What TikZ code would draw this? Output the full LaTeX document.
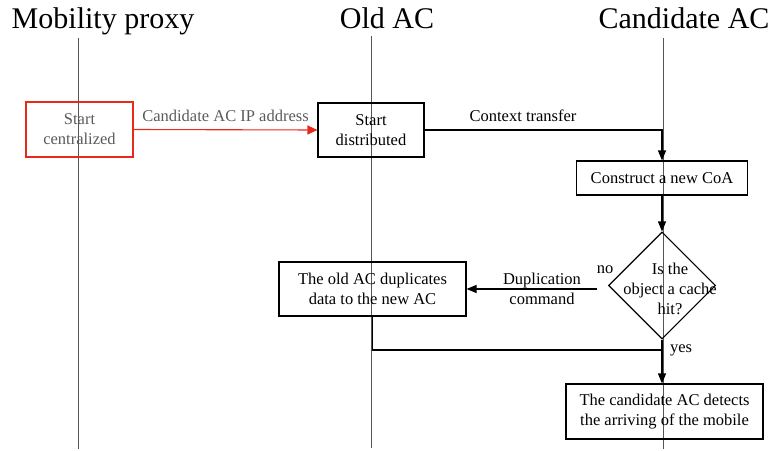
\documentclass[tikz,border=0pt]{standalone}
\usepackage{fontspec}
\setmainfont{Liberation Serif}
\usetikzlibrary{shapes.geometric,arrows.meta}
\definecolor{myred}{HTML}{E8291C}
\definecolor{txtgray}{HTML}{5A5A5A}
\definecolor{lifegray}{HTML}{555555}
\begin{document}
\begin{tikzpicture}[x=1pt,y=-1pt,
 box/.style={draw,line width=1.1pt,inner sep=0pt,align=center,font=\fontsize{16.5}{20}\selectfont},
 lbl/.style={inner sep=0pt,align=center,font=\fontsize{16.5}{20}\selectfont},
 ttl/.style={inner sep=0pt,anchor=base,font=\fontsize{30}{36}\selectfont},
 life/.style={draw=lifegray,line width=0.9pt},
 conn/.style={line width=1.1pt},
 arr/.style={line width=1.1pt,-{Triangle[length=10pt,width=8pt]}},
]
\useasboundingbox (0,0) rectangle (770,450);
% titles
\node[ttl] (tmp) at (103,28) {Mobility proxy};
\node[ttl] (toa) at (387,28) {Old AC};
\node[ttl] (tca) at (684,28) {Candidate AC};
% lifelines
\coordinate (mpT) at (78,38);  \coordinate (mpB) at (78,449);
\coordinate (oaT) at (371,36); \coordinate (oaB) at (371,448);
\coordinate (caT) at (663,38); \coordinate (caB) at (663,449);
\draw[life] (mpT) -- (mpB);
\draw[life] (oaT) -- (oaB);
\draw[life] (caT) -- (caB);
% nodes
\node[box,draw=myred,text=txtgray,minimum width=107pt,minimum height=55pt] (cent) at (79.5,129.5) {Start\\centralized};
\node[box,minimum width=106pt,minimum height=54pt] (dist) at (371,130) {Start\\distributed};
\node[box,minimum width=171pt,minimum height=34pt] (coa) at (662,178) {Construct a new CoA};
\node[draw,diamond,line width=1.1pt,inner sep=0pt,minimum width=107pt,minimum height=107pt] (dia) at (662,285.5) {};
\node[lbl] (diat) at (670,289) {Is the\\object a cache\\hit?};
\node[box,minimum width=187pt,minimum height=54pt] (dup) at (372.5,289) {The old AC duplicates\\data to the new AC};
\node[box,minimum width=197pt,minimum height=55pt] (det) at (664.5,411.5) {The candidate AC detects\\the arriving of the mobile};
% connectors
\draw[line width=1.1pt,draw=myred,-{Triangle[length=10pt,width=9pt]}] (cent.east) -- node[lbl,text=txtgray,above=8pt] (l1) {Candidate AC IP address} (dist.west);
\draw[arr] (dist.east) -| (coa.north);
\node[lbl] (l2) at (523,116) {Context transfer};
\draw[arr] (coa.south) -- (dia.north);
\coordinate (nostart) at ([shift={(-11,3.5)}]dia.west);
\draw[arr] (nostart) -- (dup.east);
\node[lbl] (l3) at (542,289) {Duplication\\command};
\node[lbl] (l4) at (605,270) {no};
\coordinate (j) at (dia.south |- 0,350);
\draw[conn] (dia.south) -- (j);
\draw[conn] (dup.south) |- (j);
\draw[arr] (j) -- (dia.south |- det.north);
\node[lbl] (l5) at (681,350) {yes};
\end{tikzpicture}
\end{document}
